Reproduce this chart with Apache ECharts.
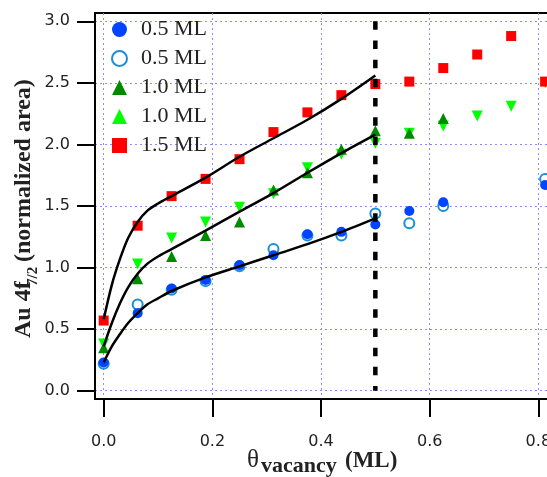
<!DOCTYPE html>
<html>
<head>
<meta charset="utf-8">
<script src="https://cdn.jsdelivr.net/npm/echarts@6/dist/echarts.min.js"></script>
<style>
  html, body { margin: 0; padding: 0; background: #fff; }
  #chart { width: 547px; height: 477px; }
</style>
</head>
<body>
<div id="chart"></div>
<script>
// coverage steps (ML)
var theta = [0, 0.0625, 0.125, 0.1875, 0.25, 0.3125, 0.375, 0.4375, 0.5, 0.5625, 0.625, 0.6875, 0.75, 0.8125];

// measured areas, null = no point
var blue05Filled = [0.23, 0.63, 0.83, 0.90, 1.02, 1.10, 1.27, 1.29, 1.35, 1.46, 1.53, null, null, 1.67];
var blue05Open   = [0.22, 0.70, 0.82, 0.89, 1.01, 1.15, 1.26, 1.26, 1.44, 1.36, 1.50, null, null, 1.72];
var green10Up    = [0.35, 0.91, 1.09, 1.26, 1.37, 1.63, 1.77, 1.96, 2.11, 2.09, 2.21, null, null, null];
var green10Down  = [0.38, 1.03, 1.24, 1.37, 1.49, 1.60, 1.81, 1.92, 2.01, 2.09, 2.15, 2.23, 2.31, 2.50];
var red15        = [0.57, 1.34, 1.58, 1.72, 1.88, 2.10, 2.26, 2.40, 2.49, 2.51, 2.62, 2.73, 2.88, 2.51];

// fit curves
var fitX    = [0, 0.015, 0.03, 0.045, 0.0625, 0.08, 0.1, 0.125, 0.1875, 0.25, 0.3125, 0.375, 0.4375, 0.5];
var fitBlue  = [0.23, 0.36, 0.46, 0.55, 0.63, 0.70, 0.75, 0.81, 0.92, 1.01, 1.10, 1.19, 1.29, 1.40];
var fitGreen = [0.36, 0.55, 0.71, 0.84, 0.95, 1.03, 1.09, 1.15, 1.30, 1.455, 1.605, 1.77, 1.93, 2.08];
var fitRed   = [0.58, 0.86, 1.07, 1.24, 1.37, 1.46, 1.52, 1.58, 1.73, 1.90, 2.05, 2.20, 2.37, 2.56];

var xTicks = [0, 0.2, 0.4, 0.6, 0.8];
var yTicks = [0, 0.5, 1.0, 1.5, 2.0, 2.5, 3.0];
var cutoff = 0.5;

function pairs(xs, ys) {
    var out = [];
    for (var i = 0; i < xs.length; i++) {
        if (ys[i] != null) out.push([xs[i], ys[i]]);
    }
    return out;
}

var chart = echarts.init(document.getElementById('chart'));

var gridLine = { show: true, lineStyle: { color: '#8c8cff', width: 1, type: [2, 3] } };
var tickFont = { fontFamily: 'DejaVu Sans', fontSize: 16, color: '#222' };
var serif = '"Liberation Serif", "Times New Roman", serif';

function scatter(name, data, symbol, color, extra) {
    var s = {
        name: name,
        type: 'scatter',
        data: data,
        symbol: symbol,
        symbolSize: 10,
        itemStyle: { color: color, opacity: 1 },
        z: 3
    };
    for (var k in extra) s[k] = extra[k];
    return s;
}

function fit(data) {
    return {
        type: 'line',
        data: data,
        smooth: 0.3,
        symbol: 'none',
        silent: true,
        lineStyle: { color: '#000', width: 2.5 },
        z: 4
    };
}

var option = {
    animation: false,
    backgroundColor: '#fff',
    grid: {
        left: 95, top: 13, width: 470.5, height: 386,
        outerBoundsMode: 'none',
        show: true, borderColor: '#000', borderWidth: 2
    },
    legend: {
        orient: 'vertical',
        left: 111, top: 15,
        padding: 0,
        itemGap: 0,
        itemWidth: 15, itemHeight: 15,
        data: ['0.5 ML (filled)', '0.5 ML (open)', '1.0 ML (up)', '1.0 ML (down)', '1.5 ML'],
        formatter: function (name) { return name.replace(/ \(.*\)$/, ''); },
        textStyle: { fontFamily: serif, fontSize: 22, color: '#222', lineHeight: 29, padding: [0, 0, 0, 9] }
    },
    xAxis: {
        type: 'value',
        min: -0.016, max: 0.85,
        axisLine: { onZero: false, lineStyle: { color: '#000', width: 2 } },
        axisTick: { length: 18, customValues: xTicks, lineStyle: { color: '#000', width: 2 } },
        axisLabel: {
            customValues: xTicks, margin: 35,
            formatter: function (v) { return v.toFixed(1); },
            fontFamily: tickFont.fontFamily, fontSize: tickFont.fontSize, color: tickFont.color
        },
        splitLine: gridLine
    },
    yAxis: {
        type: 'value',
        min: -0.067, max: 3.067,
        axisLine: { onZero: false, lineStyle: { color: '#000', width: 2 } },
        axisTick: { length: 18, customValues: yTicks, lineStyle: { color: '#000', width: 2 } },
        axisLabel: {
            customValues: yTicks, margin: 25,
            formatter: function (v) { return v.toFixed(1); },
            fontFamily: tickFont.fontFamily, fontSize: tickFont.fontSize, color: tickFont.color
        },
        splitLine: gridLine
    },
    graphic: [
        {
            type: 'group', x: 24, y: 338, rotation: Math.PI / 2,
            children: [
                { type: 'text', x: 0, y: 0, style: { text: 'Au 4f', font: 'bold 24px ' + serif, fill: '#222', align: 'left', verticalAlign: 'middle' } },
                { type: 'text', x: 52, y: 9, style: { text: '7/2', font: 'bold 15px ' + serif, fill: '#222', align: 'left', verticalAlign: 'middle' } },
                { type: 'text', x: 76, y: 0, style: { text: '(normalized area)', font: 'bold 24px ' + serif, fill: '#222', align: 'left', verticalAlign: 'middle' } }
            ]
        },
        { type: 'text', x: 247, y: 460, style: { text: 'θ', font: '25px ' + serif, fill: '#222', align: 'left', verticalAlign: 'middle' } },
        { type: 'text', x: 261, y: 466, style: { text: 'vacancy', font: 'bold 22px ' + serif, fill: '#222', align: 'left', verticalAlign: 'middle' } },
        { type: 'text', x: 345, y: 461, style: { text: '(ML)', font: 'bold 23px ' + serif, fill: '#222', align: 'left', verticalAlign: 'middle' } }
    ],
    series: [
        scatter('0.5 ML (open)', pairs(theta, blue05Open), 'emptyCircle', '#1a8ed6', { itemStyle: { color: '#1a8ed6', borderWidth: 1.5, opacity: 1 } }),
        scatter('0.5 ML (filled)', pairs(theta, blue05Filled), 'circle', '#0044ff'),
        scatter('1.0 ML (down)', pairs(theta, green10Down), 'triangle', '#00ff00', { symbolRotate: 180, symbolSize: 11 }),
        scatter('1.0 ML (up)', pairs(theta, green10Up), 'triangle', '#008a00', { symbolSize: 11 }),
        scatter('1.5 ML', pairs(theta, red15), 'rect', '#ff0000'),
        fit(pairs(fitX, fitBlue)),
        fit(pairs(fitX, fitGreen)),
        fit(pairs(fitX, fitRed)),
        {
            type: 'line',
            data: [[cutoff, 3.0], [cutoff, 0]],
            symbol: 'none',
            silent: true,
            lineStyle: { color: '#000', width: 4.5, type: [8.5, 10.7] },
            z: 5
        }
    ]
};

chart.setOption(option);
</script>
</body>
</html>
